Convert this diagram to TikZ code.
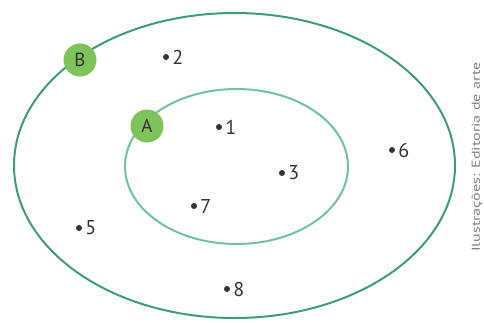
\documentclass[tikz,border=0pt]{standalone}
\usepackage{fontspec}
\setmainfont{PT Sans}
\definecolor{outerc}{HTML}{3E9C7C}
\definecolor{innerc}{HTML}{72C2A2}
\definecolor{ptfill}{HTML}{7CC45A}
\definecolor{txt}{HTML}{333333}
\begin{document}
\begin{tikzpicture}[x=1pt,y=-1pt,
  dotpt/.style={circle,fill=txt,inner sep=0pt,minimum size=6pt},
  lbl/.style={anchor=west,inner sep=0pt,text=txt,font=\fontsize{20}{20}\selectfont},
  bigpt/.style={circle,fill=ptfill,inner sep=0pt,minimum size=33pt,text=txt,font=\fontsize{19}{19}\selectfont}]
\useasboundingbox (0,0) rectangle (484,322);
\draw[outerc,line width=2pt] (234.5,165.5) ellipse [x radius=220.5, y radius=152.5];
\draw[innerc,line width=2pt] (236.5,166.5) ellipse [x radius=111.5, y radius=77.5];
\node[bigpt] (B) at (80,60) {B};
\node[bigpt] (A) at (147,126) {A};
\foreach \n/\x/\y in {1/219/127, 2/166/57, 3/282/173, 5/79/228, 6/392/150, 7/194/206, 8/227/289}{
  \node[dotpt] (p\n) at (\x,\y) {};
  \node[lbl] (l\n) at ([xshift=3pt]p\n.east) {\n};
}
\node[rotate=90,text=gray,font=\fontsize{11.5}{11.5}\selectfont,inner sep=0pt] (credit) at (477,157) {\scalebox{1.4}[1]{Ilustrações: Editoria de arte}};
\end{tikzpicture}
\end{document}
